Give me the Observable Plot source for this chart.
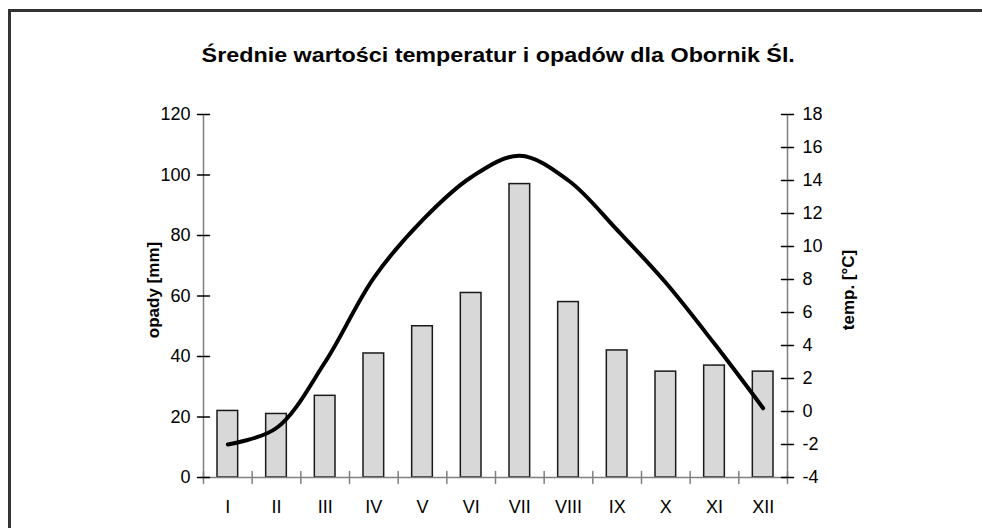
<!DOCTYPE html>
<html>
<head>
<meta charset="utf-8">
<script src="https://cdn.jsdelivr.net/npm/d3@7"></script>
<script src="https://cdn.jsdelivr.net/npm/@observablehq/plot@0.6"></script>
<style>
  html, body { margin: 0; padding: 0; background: #fff; overflow: hidden; }
  #wrap { position: relative; width: 982px; height: 528px; overflow: hidden; font-family: "Liberation Sans", Arial, sans-serif; }
  #border { position: absolute; left: 8px; top: 9px; width: 1000px; height: 560px; border: 3px solid #333; box-sizing: border-box; }
  #title { position: absolute; left: 7px; top: 43px; width: 982px; text-align: center; font-weight: bold; font-size: 21px; color: #000; }
  #title span { display: inline-block; transform: scaleX(1.11); transform-origin: center; }
  #chart { position: absolute; left: 0; top: 90px; }
</style>
</head>
<body>
<div id="wrap">
  <div id="border"></div>
  <div id="title"><span>Średnie wartości temperatur i opadów dla Obornik Śl.</span></div>
  <div id="chart"></div>
</div>
<script>
const months = ["I", "II", "III", "IV", "V", "VI", "VII", "VIII", "IX", "X", "XI", "XII"];
const precip = [22, 21, 27, 41, 50, 61, 97, 58, 42, 35, 37, 35];
const temp = [-2.0, -1.0, 3.0, 8.1, 11.6, 14.2, 15.5, 14.0, 11.0, 7.8, 4.1, 0.2];
const precipTicks = [0, 20, 40, 60, 80, 100, 120];
const tempTicks = [-4, -2, 0, 2, 4, 6, 8, 10, 12, 14, 16, 18];
const yLabelLeft = "opady [mm]";
const yLabelRight = "temp. [°C]";

const pMin = 0, pMax = 120, tMin = -4, tMax = 18;
const toP = t => (t - tMin) * (pMax - pMin) / (tMax - tMin) + pMin;
const fromP = p => (p - pMin) * (tMax - tMin) / (pMax - pMin) + tMin;

const data = months.map((m, i) => ({i, month: m, precip: precip[i], temp: temp[i]}));
const boundaries = d3.range(months.length + 1);

const tickShape = {draw(context, l) { context.moveTo(0, 0); context.lineTo(0, -l); }};

const chart = Plot.plot({
  width: 982,
  height: 438,
  marginTop: 24,
  marginBottom: 51,
  marginLeft: 203,
  marginRight: 195,
  style: {fontFamily: "'Liberation Sans', Arial, sans-serif", fontSize: "18px", color: "#000", background: "transparent"},
  x: {type: "linear", domain: [0, months.length], axis: null},
  y: {domain: [pMin, pMax], axis: null},
  marks: [
    Plot.rectY(data, {x: "i", interval: 1, y: "precip", insetLeft: 14, insetRight: 14, fill: "#d8d8d8", stroke: "#1a1a1a", strokeWidth: 1.5}),
    Plot.ruleY([pMin], {stroke: "#808080", strokeWidth: 1.5}),
    Plot.ruleX([0, months.length], {stroke: "#808080", strokeWidth: 1.5}),
    Plot.vector(boundaries, {x: d => d, y: pMin, length: 12, rotate: 0, anchor: "middle", shape: tickShape, stroke: "#808080", strokeWidth: 1.5}),
    Plot.vector(precipTicks, {x: 0, y: d => d, length: 12, rotate: 90, anchor: "middle", shape: tickShape, stroke: "#000", strokeWidth: 1.5}),
    Plot.vector(tempTicks, {x: months.length, y: d => toP(d), length: 12, rotate: 90, anchor: "middle", shape: tickShape, stroke: "#000", strokeWidth: 1.5}),
    Plot.axisY(precipTicks, {anchor: "left", tickSize: 0, tickPadding: 13, fontSize: 18, label: null}),
    Plot.axisY(tempTicks.map(toP), {anchor: "right", tickSize: 0, tickPadding: 15, fontSize: 18, label: null, tickFormat: d => String(Math.round(fromP(d)))}),
    Plot.text(data, {x: d => d.i + 0.5, text: "month", frameAnchor: "bottom", dy: 35, fontSize: 18}),
    Plot.text([yLabelLeft], {frameAnchor: "left", dx: -50, rotate: -90, textAnchor: "middle", fontWeight: "bold", fontSize: 17, dy: -6}),
    Plot.text([yLabelRight], {frameAnchor: "right", dx: 61, rotate: -90, textAnchor: "middle", fontWeight: "bold", fontSize: 17, dy: -6}),
    Plot.line(data, {x: d => d.i + 0.5, y: d => toP(d.temp), curve: "catmull-rom", stroke: "#000", strokeWidth: 4, strokeLinejoin: "round", strokeLinecap: "round"})
  ]
});
document.getElementById("chart").appendChild(chart);
</script>
</body>
</html>
